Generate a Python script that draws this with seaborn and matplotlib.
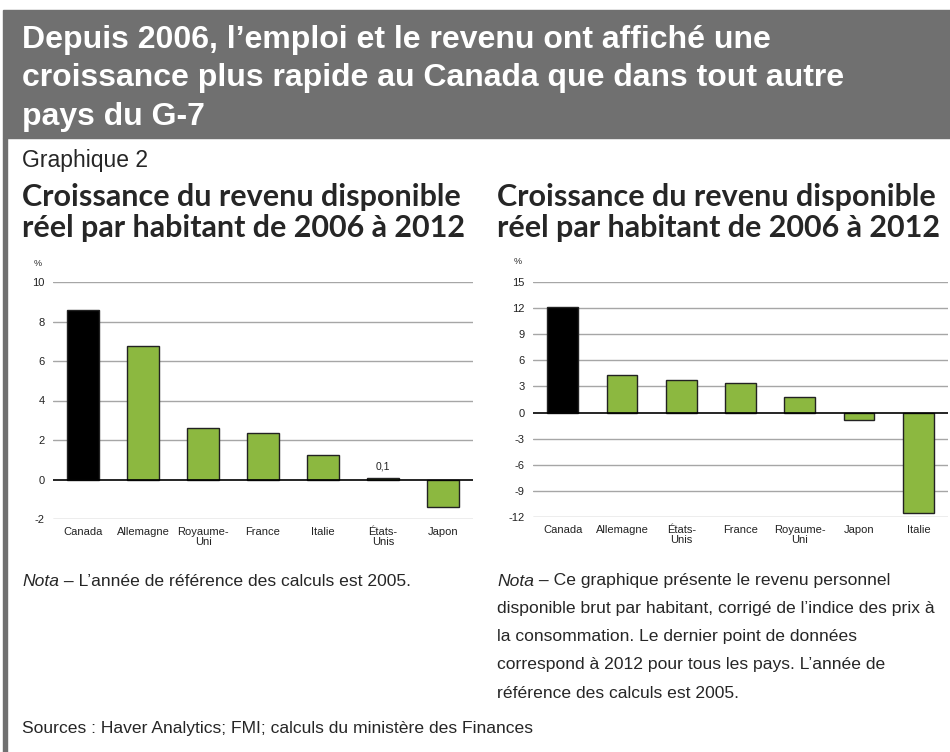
import matplotlib
matplotlib.use("Agg")
import matplotlib.pyplot as plt
from matplotlib import font_manager
import seaborn as sns
import pandas as pd

# data
pays_gauche = ["Canada", "Allemagne", "Royaume-\nUni", "France", "Italie", "États-\nUnis", "Japon"]
revenu_gauche = [8.6, 6.75, 2.6, 2.35, 1.25, 0.1, -1.4]
ticks_gauche = [-2, 0, 2, 4, 6, 8, 10]

pays_droite = ["Canada", "Allemagne", "États-\nUnis", "France", "Royaume-\nUni", "Japon", "Italie"]
revenu_droite = [12.15, 4.35, 3.75, 3.45, 1.75, -0.8, -11.5]
ticks_droite = [-12, -9, -6, -3, 0, 3, 6, 9, 12, 15]

titre = ("Depuis 2006, l’emploi et le revenu ont affiché une\n"
         "croissance plus rapide au Canada que dans tout autre\n"
         "pays du G-7")
sous_titre = "Croissance du revenu disponible\nréel par habitant de 2006 à 2012"
nota_gauche = ["L’année de référence des calculs est 2005."]
nota_droite = ["Ce graphique présente le revenu personnel",
               "disponible brut par habitant, corrigé de l’indice des prix à",
               "la consommation. Le dernier point de données",
               "correspond à 2012 pour tous les pays. L’année de",
               "référence des calculs est 2005."]
sources = "Sources : Haver Analytics; FMI; calculs du ministère des Finances"

VERT = "#8CB840"
NOIR = "#000000"
GRIS = "#707070"

sns.set_theme(style="white")
plt.rcParams['font.family'] = ['Liberation Sans', 'DejaVu Sans']
plt.rcParams['axes.unicode_minus'] = False

noms = {f.name for f in font_manager.fontManager.ttflist}
grasse = "Lato" if "Lato" in noms else "DejaVu Sans"

W, H = 950, 752
fig = plt.figure(figsize=(W / 100, H / 100), dpi=100)


def fx(px):
    return px / W


def fy(py):
    return 1 - py / H


# header band and left border
fig.patches.append(plt.Rectangle((fx(3), fy(138)), fx(947), 128 / H, transform=fig.transFigure,
                                 color=GRIS, zorder=0))
fig.patches.append(plt.Rectangle((fx(3), 0), fx(4), fy(138), transform=fig.transFigure,
                                 color=GRIS, zorder=0))

fig.text(fx(22), fy(25), titre, color="white", fontsize=23, fontweight="bold",
         va="top", ha="left", linespacing=1.36)
fig.text(fx(22), fy(160), "Graphique 2", fontsize=16.5, va="center", ha="left")
for x0 in (22, 497):
    fig.text(fx(x0), fy(183), sous_titre, fontsize=22, fontweight="bold", family=grasse,
             va="top", ha="left", linespacing=1.15)


def trace(ax, pays, valeurs, ticks):
    df = pd.DataFrame({"pays": pays, "valeur": valeurs})
    couleurs = [NOIR] + [VERT] * (len(pays) - 1)
    sns.barplot(data=df, x="pays", y="valeur", hue="pays", palette=couleurs, legend=False,
                width=0.52, edgecolor="#222222", linewidth=1, saturation=1, ax=ax, zorder=3)
    ax.set_ylim(ticks[0], ticks[-1])
    ax.set_yticks(ticks)
    ax.set_xlim(-0.5, len(pays) - 0.5)
    for t in ticks:
        if t != 0:
            ax.axhline(t, color="#A6A6A6", linewidth=1, zorder=1)
    ax.axhline(0, color="black", linewidth=1.2, zorder=4)
    sns.despine(ax=ax, left=True, bottom=True)
    ax.tick_params(axis="both", length=0, labelsize=8, colors="#222222")
    ax.tick_params(axis="y", pad=6)
    ax.tick_params(axis="x", pad=6)
    ax.set_xlabel("")
    ax.set_ylabel("")
    for lab in ax.get_xticklabels():
        lab.set_linespacing(0.9)


ax1 = fig.add_axes([fx(53), fy(519), fx(420), (519 - 282) / H])
trace(ax1, pays_gauche, revenu_gauche, ticks_gauche)
ax1.text(5, revenu_gauche[5] + 0.3, "0,1", fontsize=7.5, ha="center", va="bottom", color="#222222")
fig.text(fx(38), fy(263), "%", fontsize=6.5, ha="center", va="center")

ax2 = fig.add_axes([fx(533), fy(517), fx(415), (517 - 282) / H])
trace(ax2, pays_droite, revenu_droite, ticks_droite)
fig.text(fx(518), fy(262), "%", fontsize=6.5, ha="center", va="center")

# notes
renderer = fig.canvas.get_renderer()


def nota(x0, lignes):
    t = fig.text(fx(x0), fy(581), "Nota", fontsize=12.6, style="italic", va="center")
    fin = t.get_window_extent(renderer).x1
    fig.text(fin / W, fy(581), " – " + lignes[0], fontsize=12.6, va="center")
    for i, ligne in enumerate(lignes[1:], start=1):
        fig.text(fx(x0), fy(581 + 28 * i), ligne, fontsize=12.6, va="center")


nota(22, nota_gauche)
nota(497, nota_droite)
fig.text(fx(22), fy(728), sources, fontsize=12.6, va="center")

fig.savefig("out.png", dpi=100)
